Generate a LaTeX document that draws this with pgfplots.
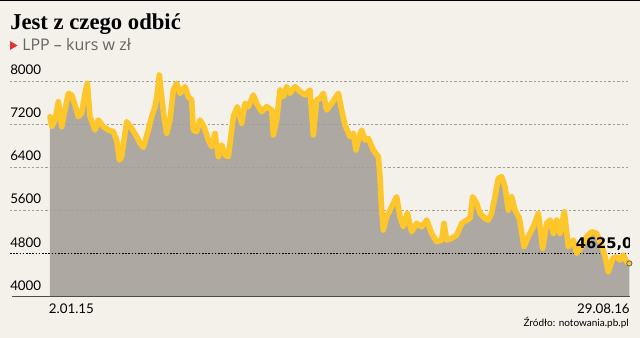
\documentclass[border=0pt]{standalone}
\usepackage{pgfplots}
\pgfplotsset{compat=1.18}
\usepackage{fontspec}
\setmainfont{Lato}
\newfontfamily\titlefont{Liberation Serif}
\newfontfamily\subfont{Open Sans}
\newfontfamily\valfont{DejaVu Sans}
\definecolor{bg}{RGB}{244,240,234}
\definecolor{areagray}{RGB}{173,168,161}
\definecolor{lineyellow}{RGB}{253,198,42}
\definecolor{gridgray}{RGB}{160,158,155}
\definecolor{subgray}{RGB}{100,100,100}
\definecolor{tri}{RGB}{230,50,50}
\begin{document}
\begin{tikzpicture}
\begin{scope}[x=0.75pt,y=-0.75pt]
\path[use as bounding box] (0,0) rectangle (640,338);
\fill[bg] (0,0) rectangle (640,338);
\fill[black] (0,0) rectangle (640,1.5);
\node[anchor=base west,inner sep=0,font=\titlefont\bfseries\fontsize{17}{19}\selectfont] at (10,30) {Jest z czego odbić};
\fill[tri] (10,41) -- (17.5,45.5) -- (10,50) -- cycle;
\node[anchor=base west,inner sep=0,text=subgray,font=\subfont\fontsize{12}{14}\selectfont] at (22,51) {LPP – kurs w zł};
\node[anchor=base east,inner sep=0,font=\fontsize{7.5}{9}\selectfont] at (629,327) {Źródło: notowania.pb.pl};
\end{scope}
\begin{axis}[
  at={(7.5pt,-222.375pt)}, anchor=south west,
  scale only axis, width=465pt, height=169.69pt,
  xmin=30, xmax=1890, ymin=4000, ymax=8200,
  axis line style={draw=none},
  major tick length=0pt,
  ytick={4000,4800,5600,6400,7200,8000},
  yticklabel style={anchor=south west, inner sep=0pt, yshift=4.5pt, font=\fontsize{10}{12}\selectfont},
  /pgf/number format/assume math mode=true,
  /pgf/number format/set thousands separator={},
  xtick={150}, xticklabels={2.01.15},
  xticklabel style={anchor=north west, inner sep=0pt, yshift=-5pt, xshift=-1pt, font=\fontsize{10}{12}\selectfont},
  extra x ticks={1888}, extra x tick labels={29.08.16},
  extra x tick style={xticklabel style={anchor=north east, xshift=1.5pt}},
]
\pgfplotstableread{
x y
150 7338
155 7152
165 7276
175 7616
185 7152
195 7461
205 7771
215 7740
225 7554
235 7338
245 7400
255 7771
262 7957
270 7338
285 7090
295 7276
310 7152
325 7090
340 7059
350 6904
358 6533
365 6595
380 7245
395 7121
410 6966
420 6842
430 6768
445 7090
455 7338
465 7523
472 7771
478 8111
485 7709
492 7338
500 7028
510 7276
520 7833
530 7957
540 7771
555 7895
565 7709
575 7647
580 7090
590 7059
600 7276
612 7152
625 6904
635 6781
645 7028
655 6595
665 6812
675 6626
685 6595
700 7338
712 7523
725 7214
735 7585
745 7523
760 7740
770 7585
785 7431
800 7523
815 7461
820 6997
830 7276
840 7833
850 7709
860 7895
870 7771
885 7895
900 7802
915 7740
930 7833
940 6997
950 7647
960 7678
970 7771
980 7461
995 7585
1015 7771
1025 7461
1035 7183
1050 6966
1060 7028
1068 6719
1075 6904
1085 7090
1095 6904
1105 6935
1120 6719
1135 6595
1140 6223
1145 5604
1150 5233
1160 5481
1175 5666
1190 5852
1200 5481
1210 5295
1222 5543
1235 5202
1250 5357
1265 5295
1280 5419
1295 5171
1310 5016
1325 5047
1332 5357
1340 5047
1355 5078
1370 5140
1385 5357
1400 5419
1410 5450
1418 5852
1430 5728
1440 5543
1455 5450
1465 5419
1475 5543
1485 5852
1495 6192
1505 6223
1515 6038
1525 5604
1535 5852
1545 5604
1558 5450
1572 4924
1585 5109
1600 5295
1615 5543
1628 4893
1640 5357
1650 5419
1660 5171
1670 5419
1680 5171
1693 5573
1705 4924
1720 5047
1730 4800
1745 4924
1760 5109
1775 5202
1790 5171
1805 4955
1815 4738
1825 4459
1838 4707
1850 4738
1860 4676
1870 4769
1880 4645
1888 4614
}\lpp
\addplot[draw=none, fill=areagray] table {\lpp} \closedcycle;
\foreach \g in {5600,6400,7200,8000} {
  \edef\tmp{\noexpand\draw[gridgray, line width=0.6pt, dash pattern=on 1.8pt off 1.5pt] (axis cs:30,\g) -- (axis cs:1890,\g);}
  \tmp
}
\draw[black, line width=0.7pt, dash pattern=on 1.2pt off 1.2pt] (axis cs:30,4800) -- (axis cs:1890,4800);
\draw[black!70, line width=0.75pt] (axis cs:36,4000) -- (axis cs:1890,4000);
\addplot[lineyellow, line width=4.2pt, line join=round, line cap=round] table {\lpp};
\addplot[only marks, mark=*, mark size=2pt, mark options={fill=lineyellow, draw=black!60, line width=0.6pt}] coordinates {(1888,4614)};
\node[anchor=south east, inner sep=0pt, yshift=2pt, xshift=2pt, font=\valfont\bfseries\fontsize{11}{12}\selectfont] at (axis cs:1890,4800) {4625,0};
\end{axis}
\end{tikzpicture}
\end{document}
